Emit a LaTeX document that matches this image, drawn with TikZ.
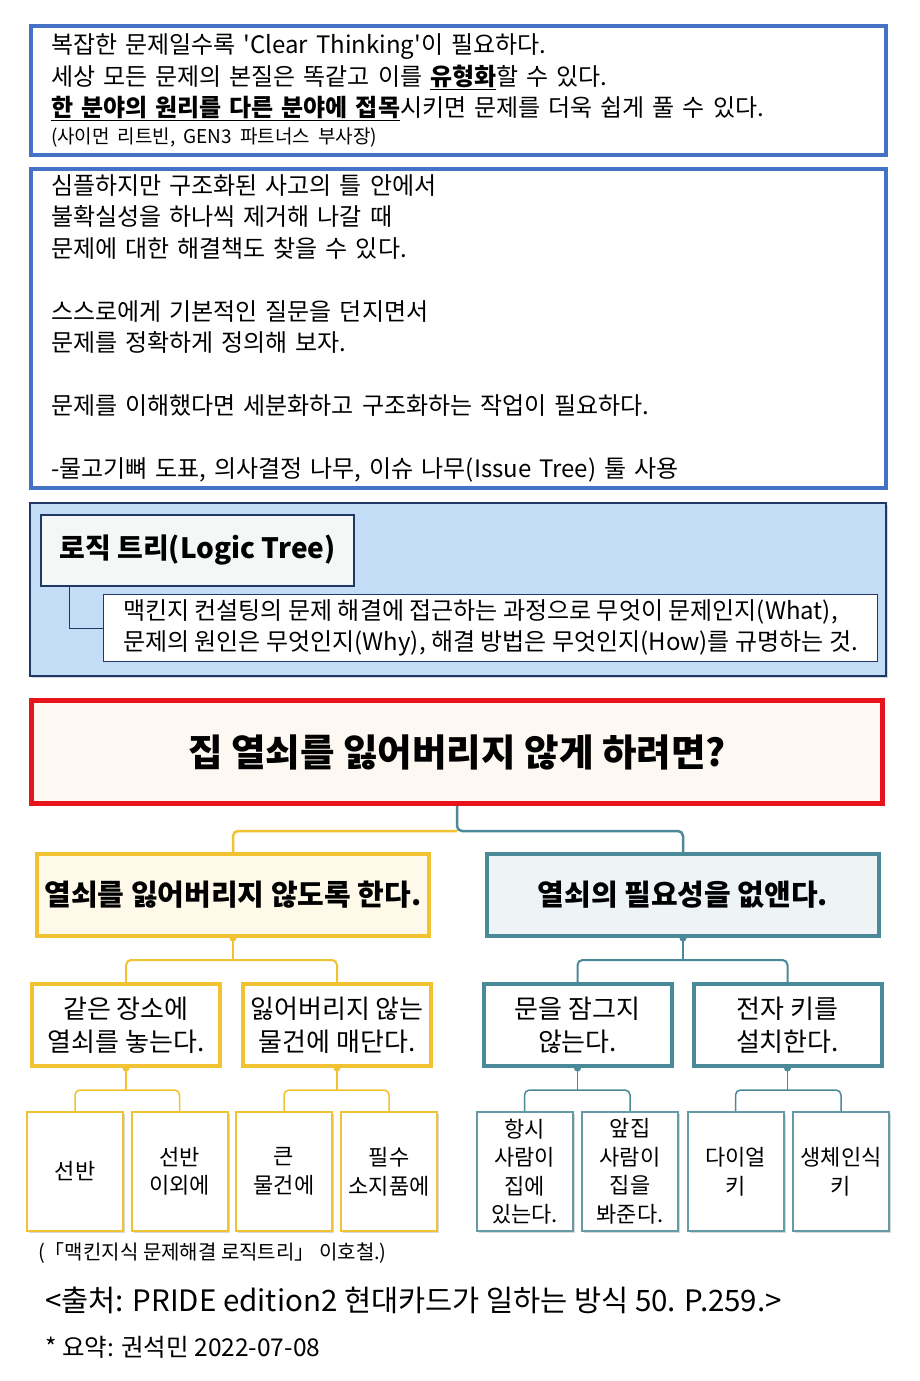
\documentclass[tikz,border=0pt]{standalone}
\usepackage{fontspec}
\setmainfont{Noto Sans CJK KR}
\usetikzlibrary{shadows}
\definecolor{quoteblue}{HTML}{4472C4}
\definecolor{navy}{HTML}{1F3864}
\definecolor{skyfill}{HTML}{C4DDF7}
\definecolor{mintfill}{HTML}{F3F8F7}
\definecolor{keyred}{HTML}{E8141B}
\definecolor{creamfill}{HTML}{FDF8F1}
\definecolor{gold}{HTML}{F1C232}
\definecolor{goldfill}{HTML}{FFF9EA}
\definecolor{keyteal}{HTML}{4A8997}
\definecolor{tealfill}{HTML}{EEF3F5}
\begin{document}
\begin{tikzpicture}[x=1pt, y=-1pt,
  myshadow/.style={drop shadow={opacity=0.3, shadow xshift=2pt, shadow yshift=-2pt}},
  bluebox/.style={draw=quoteblue, line width=4pt, fill=white, anchor=north west, align=left,
    inner xsep=20pt, text width=815pt, font=\fontsize{24}{31.5}\selectfont, myshadow},
  goldbox/.style={draw=gold, line width=4pt, fill=goldfill, minimum width=392, minimum height=82,
    font=\bfseries\fontsize{29}{32}\selectfont, myshadow},
  tealbox/.style={draw=keyteal, line width=4pt, fill=tealfill, minimum width=392, minimum height=82,
    font=\bfseries\fontsize{29}{32}\selectfont, myshadow},
  goldsub/.style={draw=gold, line width=4pt, fill=white, minimum width=188, minimum height=82,
    inner xsep=2pt, align=center, font=\fontsize{26}{33}\selectfont, myshadow},
  tealsub/.style={draw=keyteal, line width=4pt, fill=white, minimum width=188, minimum height=82,
    inner xsep=2pt, align=center, font=\fontsize{26}{33}\selectfont, myshadow},
  goldleaf/.style={draw=gold, line width=2pt, fill=white, minimum width=96, minimum height=119,
    inner xsep=1pt, align=center, font=\fontsize{22}{28.5}\selectfont, myshadow},
  tealleaf/.style={draw=keyteal!85, line width=2pt, fill=white, minimum width=96, minimum height=119,
    inner xsep=1pt, align=center, font=\fontsize{22}{28.5}\selectfont, myshadow},
  goldline/.style={draw=gold, rounded corners=5pt},
  tealline/.style={draw=keyteal, rounded corners=5pt},
  joint/.style={line width=1pt, fill=white}]
\useasboundingbox[fill=white] (0,0) rectangle (919,1381);

\node[bluebox, minimum height=129] (quote) at (29,24)
  {복잡한 문제일수록 \textquotesingle Clear Thinking\textquotesingle 이 필요하다.\\
   세상 모든 문제의 본질은 똑같고 이를 \underline{\textbf{유형화}}할 수 있다.\\
   \underline{\textbf{한 분야의 원리를 다른 분야에 접목}}시키면 문제를 더욱 쉽게 풀 수 있다.\\[-5pt]
   {\fontsize{19}{31.5}\selectfont (사이먼 리트빈, GEN3 파트너스 부사장)}};

\node[bluebox, minimum height=319] (advice) at (29,167)
  {심플하지만 구조화된 사고의 틀 안에서\\
   불확실성을 하나씩 제거해 나갈 때\\
   문제에 대한 해결책도 찾을 수 있다.\\[31.5pt]
   스스로에게 기본적인 질문을 던지면서\\
   문제를 정확하게 정의해 보자.\\[31.5pt]
   문제를 이해했다면 세분화하고 구조화하는 작업이 필요하다.\\[31.5pt]
   -물고기뼈 도표, 의사결정 나무, 이슈 나무(Issue Tree) 툴 사용};

\node[draw=navy, line width=2.5pt, fill=skyfill, anchor=north west, minimum width=856,
  minimum height=173, myshadow] (logicbg) at (28.5,501.5) {};
\node[draw=navy, line width=2pt, fill=mintfill, minimum width=313, minimum height=71,
  font=\bfseries\fontsize{28}{30}\selectfont] (logic) at (197.5,550) {로직 트리(Logic Tree)};
\node[draw=navy, line width=1pt, fill=white, anchor=north west, minimum width=774,
  minimum height=67, align=left, font=\fontsize{24}{31.5}\selectfont] (logicdesc) at (103,594)
  {맥킨지 컨설팅의 문제 해결에 접근하는 과정으로 무엇이 문제인지(What),\\
   문제의 원인은 무엇인지(Why), 해결 방법은 무엇인지(How)를 규명하는 것.};
\draw[navy, line width=1pt] ([xshift=29pt]logic.south west) |- (logicdesc.west);

\node[draw=keyred, line width=5pt, fill=creamfill, minimum width=851, minimum height=103,
  font=\bfseries\fontsize{37.5}{40}\selectfont, myshadow] (root) at (457,752)
  {집 열쇠를 잃어버리지 않게 하려면?};

\node[goldbox] (keepkey) at (233,895) {열쇠를 잃어버리지 않도록 한다.};
\node[tealbox] (nokey) at (683,895) {열쇠의 필요성을 없앤다.};

\node[goldsub] (sameplace) at (126,1025) {같은 장소에\\열쇠를 놓는다.};
\node[goldsub] (attach) at (337,1025) {잃어버리지 않는\\물건에 매단다.};
\node[tealsub] (unlock) at (577.5,1025) {문을 잠그지\\않는다.};
\node[tealsub] (ekey) at (787.5,1025) {전자 키를\\설치한다.};

\node[goldleaf] (shelf) at (75,1171.5) {선반};
\node[goldleaf] (elsewhere) at (179.5,1171.5) {선반\\이외에};
\node[goldleaf] (bigthing) at (284,1171.5) {큰\\물건에};
\node[goldleaf] (essential) at (389,1171.5) {필수\\소지품에};
\node[tealleaf] (someone) at (524.5,1171.5) {항시\\사람이\\집에\\있는다.};
\node[tealleaf] (neighbor) at (630,1171.5) {앞집\\사람이\\집을\\봐준다.};
\node[tealleaf] (dial) at (735.5,1171.5) {다이얼\\키};
\node[tealleaf] (bio) at (841,1171.5) {생체인식\\키};

\draw[tealline, line width=2.5pt] (root.south) -- ++(0,25) -| (nokey.north);
\draw[goldline, line width=2.5pt] (root.south) ++(0,25) -| (keepkey.north);

\draw[goldline, line width=2pt] (sameplace.north) |- ([yshift=-22pt]keepkey.south) -| (attach.north);
\draw[goldline, line width=2pt] (keepkey.south) -- ++(0,22);
\draw[tealline, line width=2pt] (unlock.north) |- ([yshift=-22pt]nokey.south) -| (ekey.north);
\draw[tealline, line width=2pt] (nokey.south) -- ++(0,22);

\draw[goldline, line width=1.5pt] (shelf.north) |- ([yshift=-22pt]sameplace.south) -| (elsewhere.north);
\draw[goldline, line width=1.5pt] (sameplace.south) -- ++(0,22);
\draw[goldline, line width=1.5pt] (bigthing.north) |- ([yshift=-22pt]attach.south) -| (essential.north);
\draw[goldline, line width=1.5pt] (attach.south) -- ++(0,22);
\draw[tealline, line width=1.5pt] (someone.north) |- ([yshift=-22pt]unlock.south) -| (neighbor.north);
\draw[tealline, line width=1.5pt] (unlock.south) -- ++(0,22);
\draw[tealline, line width=1.5pt] (dial.north) |- ([yshift=-22pt]ekey.south) -| (bio.north);
\draw[tealline, line width=1.5pt] (ekey.south) -- ++(0,22);

\draw[joint, gold] (keepkey.south) circle (3pt);
\draw[joint, keyteal] (nokey.south) circle (3pt);
\draw[joint, gold] (sameplace.south) circle (3pt);
\draw[joint, gold] (attach.south) circle (3pt);
\draw[joint, keyteal] (unlock.south) circle (3pt);
\draw[joint, keyteal] (ekey.south) circle (3pt);

\node[anchor=west, inner sep=0pt, font=\fontsize{20}{22}\selectfont] (book) at (38,1253)
  {(「맥킨지식 문제해결 로직트리」 이호철.)};
\node[anchor=west, inner sep=0pt, font=\fontsize{29.5}{32}\selectfont] (source) at (45,1300)
  {<출처: PRIDE edition2 현대카드가 일하는 방식 50. P.259.>};
\node[anchor=west, inner sep=0pt, font=\fontsize{24.5}{28}\selectfont] (summary) at (45,1347)
  {* 요약: 권석민 2022-07-08};
\end{tikzpicture}
\end{document}
